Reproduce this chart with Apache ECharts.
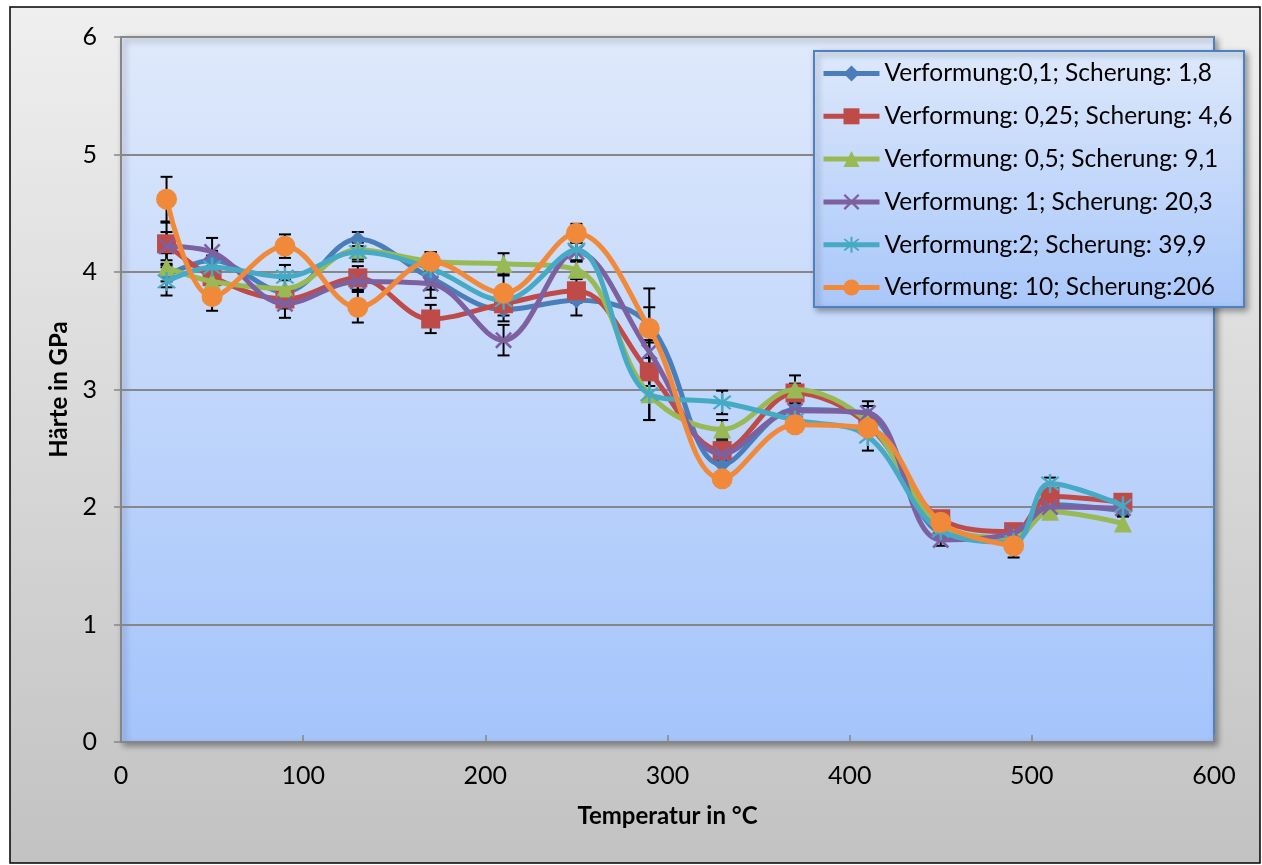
<!DOCTYPE html>
<html>
<head>
<meta charset="utf-8">
<title>Härte in GPa über Temperatur</title>
<script src="https://cdn.jsdelivr.net/npm/echarts@6/dist/echarts.min.js"></script>
<style>
  html, body { margin: 0; padding: 0; background: #ffffff; }
  #chart { width: 1262px; height: 865px; }
</style>
</head>
<body>
<div id="chart"></div>
<script>
// Temperatures (°C) at which hardness was measured
const temperatures = [25, 50, 90, 130, 170, 210, 250, 290, 330, 370, 410, 450, 490, 510, 550];

// Series names (deformation / shear)
const seriesNames = [
  'Verformung:0,1; Scherung: 1,8',
  'Verformung: 0,25; Scherung: 4,6',
  'Verformung: 0,5; Scherung: 9,1',
  'Verformung: 1; Scherung: 20,3',
  'Verformung:2; Scherung: 39,9',
  'Verformung: 10; Scherung:206'
];

// Hardness values (GPa)
const hardness01  = [3.97, 4.10, 3.83, 4.28, 3.95, 3.68, 3.76, 3.55, 2.36, 2.83, 2.78, 1.78, 1.72, 2.02, 1.97];
const hardness025 = [4.24, 3.96, 3.77, 3.95, 3.60, 3.73, 3.84, 3.15, 2.48, 2.97, 2.70, 1.90, 1.79, 2.09, 2.04];
const hardness05  = [4.04, 3.92, 3.86, 4.19, 4.09, 4.07, 4.02, 2.96, 2.66, 3.00, 2.72, 1.85, 1.74, 1.96, 1.86];
const hardness1   = [4.22, 4.17, 3.73, 3.92, 3.90, 3.42, 4.17, 3.32, 2.45, 2.82, 2.80, 1.72, 1.78, 2.00, 1.99];
const hardness2   = [3.92, 4.04, 3.96, 4.17, 4.03, 3.76, 4.19, 2.96, 2.89, 2.74, 2.60, 1.80, 1.70, 2.20, 2.01];
const hardness10  = [4.62, 3.79, 4.22, 3.70, 4.09, 3.82, 4.33, 3.52, 2.24, 2.70, 2.67, 1.87, 1.67, null, null];

// Standard deviations (± GPa) for the error bars
const error01  = [0.10, 0.08, 0.10, 0.06, 0.10, 0.10, 0.13, 0.15, 0.08, 0.08, 0.08, 0.05, 0.05, 0.05, 0.05];
const error025 = [0.18, 0.08, 0.08, 0.10, 0.12, 0.10, 0.10, 0.12, 0.08, 0.08, 0.08, 0.05, 0.05, 0.05, 0.05];
const error05  = [0.12, 0.08, 0.08, 0.08, 0.08, 0.09, 0.08, 0.22, 0.08, 0.12, 0.08, 0.05, 0.05, 0.05, 0.06];
const error1   = [0.12, 0.12, 0.12, 0.08, 0.12, 0.13, 0.08, 0.10, 0.08, 0.08, 0.10, 0.05, 0.05, 0.05, 0.05];
const error2   = [0.12, 0.10, 0.10, 0.08, 0.10, 0.10, 0.10, 0.22, 0.10, 0.08, 0.12, 0.05, 0.05, 0.05, 0.05];
const error10  = [0.19, 0.12, 0.10, 0.13, 0.08, 0.15, 0.08, 0.34, 0.05, 0.05, 0.05, 0.05, 0.10, null, null];

// Axis tick values
const xTicks = [0, 100, 200, 300, 400, 500, 600];
const yTicks = [0, 1, 2, 3, 4, 5, 6];

const valueSets = [hardness01, hardness025, hardness05, hardness1, hardness2, hardness10];
const errorSets = [error01, error025, error05, error1, error2, error10];
const colors = ['#4a7ebb', '#be4b48', '#98b954', '#7d60a0', '#46aac5', '#f08a3a'];

// Cross-shaped marker built from rotated bars (same winding so overlaps stay filled)
function barPath(angleDeg, len, th) {
  const a = angleDeg * Math.PI / 180, c = Math.cos(a), s = Math.sin(a);
  const pts = [[-len, -th], [len, -th], [len, th], [-len, th]].map(([x, y]) =>
    [(x * c - y * s + 6).toFixed(3), (x * s + y * c + 6).toFixed(3)]);
  return 'M' + pts.map(p => p.join(',')).join('L') + 'Z';
}
const xMarker = 'path://' + barPath(45, 6, 0.7) + barPath(135, 6, 0.7);
const starMarker = 'path://' + barPath(45, 6, 0.6) + barPath(135, 6, 0.6) + barPath(90, 6, 0.6);

const symbols = ['diamond', 'rect', 'triangle', xMarker, starMarker, 'circle'];
const symbolSizes = [16, 19, 18, 17, 19, 21];

const FONT = 'Lato, "Open Sans", sans-serif';

const lineSeries = seriesNames.map((name, i) => ({
  name: name,
  type: 'line',
  smooth: 0.36,
  data: temperatures.map((t, k) => valueSets[i][k] == null ? null : [t, valueSets[i][k]]),
  connectNulls: false,
  symbol: symbols[i],
  symbolSize: symbolSizes[i],
  showAllSymbol: true,
  lineStyle: { color: colors[i], width: 5 },
  itemStyle: { color: colors[i], borderWidth: 0 },
  emphasis: { disabled: true },
  z: 3 + i * 0.01
}));

// Black error bars with caps
const errorData = [];
valueSets.forEach((vals, i) => {
  vals.forEach((v, k) => {
    const e = errorSets[i][k];
    if (v != null && e != null) errorData.push([temperatures[k], v - e, v + e]);
  });
});

const errorSeries = {
  type: 'custom',
  name: 'Fehler',
  data: errorData,
  z: 2,
  silent: true,
  renderItem: function (params, api) {
    const lo = api.coord([api.value(0), api.value(1)]);
    const hi = api.coord([api.value(0), api.value(2)]);
    const half = 6;
    const style = { stroke: '#000', lineWidth: 2 };
    return {
      type: 'group',
      children: [
        { type: 'line', shape: { x1: lo[0], y1: lo[1], x2: hi[0], y2: hi[1] }, style: style },
        { type: 'line', shape: { x1: lo[0] - half, y1: lo[1], x2: lo[0] + half, y2: lo[1] }, style: style },
        { type: 'line', shape: { x1: hi[0] - half, y1: hi[1], x2: hi[0] + half, y2: hi[1] }, style: style }
      ]
    };
  },
  encode: { x: 0, y: [1, 2] }
};

const chart = echarts.init(document.getElementById('chart'), null, { renderer: 'canvas' });

chart.setOption({
  animation: false,
  backgroundColor: 'transparent',
  textStyle: { fontFamily: FONT },
  graphic: [
    {
      type: 'rect', z: -10,
      shape: { x: 10, y: 7, width: 1250, height: 856 },
      style: {
        fill: new echarts.graphic.LinearGradient(0, 0, 0, 1, [
          { offset: 0, color: '#efefef' }, { offset: 1, color: '#c2c2c2' }
        ]),
        stroke: '#000', lineWidth: 1.5
      }
    },
    {
      type: 'rect', z: 10,
      shape: { x: 814, y: 51, width: 430, height: 256 },
      style: {
        fill: new echarts.graphic.LinearGradient(0, 0, 0, 1, [
          { offset: 0, color: '#dde8fb' }, { offset: 1, color: '#a9c7fa' }
        ]),
        stroke: '#4f81bd', lineWidth: 2,
        shadowBlur: 6, shadowOffsetX: 3, shadowOffsetY: 3, shadowColor: 'rgba(0,0,0,0.35)'
      }
    }
  ],
  grid: {
    left: 121, right: 48, top: 37, bottom: 123,
    show: true,
    backgroundColor: new echarts.graphic.LinearGradient(0, 0, 0, 1, [
      { offset: 0, color: '#dfe9fb' }, { offset: 1, color: '#a4c4fb' }
    ]),
    borderColor: '#4f81bd', borderWidth: 2,
    shadowBlur: 6, shadowOffsetX: 3, shadowOffsetY: 3, shadowColor: 'rgba(0,0,0,0.35)'
  },
  legend: {
    orient: 'vertical',
    left: 816, top: 56,
    itemWidth: 56, itemHeight: 20,
    itemGap: 17.8,
    z: 20,
    data: seriesNames,
    lineStyle: { width: 5 },
    textStyle: { fontSize: 24.5, color: '#000', fontFamily: FONT, lineHeight: 22.8 },
    selectedMode: false
  },
  xAxis: {
    type: 'value',
    min: xTicks[0], max: xTicks[xTicks.length - 1], interval: 100,
    name: 'Temperatur in °C',
    nameLocation: 'middle', nameGap: 62,
    nameTextStyle: { fontSize: 24, fontWeight: 'bold', color: '#000', fontFamily: FONT },
    axisLine: { show: true, onZero: false, lineStyle: { color: '#868686', width: 2 } },
    axisTick: { show: true, inside: true, length: 7, lineStyle: { color: '#868686', width: 1.5 } },
    axisLabel: { margin: 21, fontSize: 25, color: '#000', fontFamily: FONT },
    splitLine: { show: false }
  },
  yAxis: {
    type: 'value',
    min: yTicks[0], max: yTicks[yTicks.length - 1], interval: 1,
    name: 'Härte in GPa',
    nameLocation: 'middle', nameGap: 44, nameRotate: 90,
    nameTextStyle: { fontSize: 24, fontWeight: 'bold', color: '#000', fontFamily: FONT },
    axisLine: { show: true, onZero: false, lineStyle: { color: '#868686', width: 2 } },
    axisTick: { show: true, inside: false, length: 7, lineStyle: { color: '#868686', width: 1.5 } },
    axisLabel: { margin: 24, fontSize: 25, color: '#000', fontFamily: FONT },
    splitLine: { show: true, lineStyle: { color: '#878787', width: 2 } }
  },
  series: [errorSeries].concat(lineSeries)
});
</script>
</body>
</html>
